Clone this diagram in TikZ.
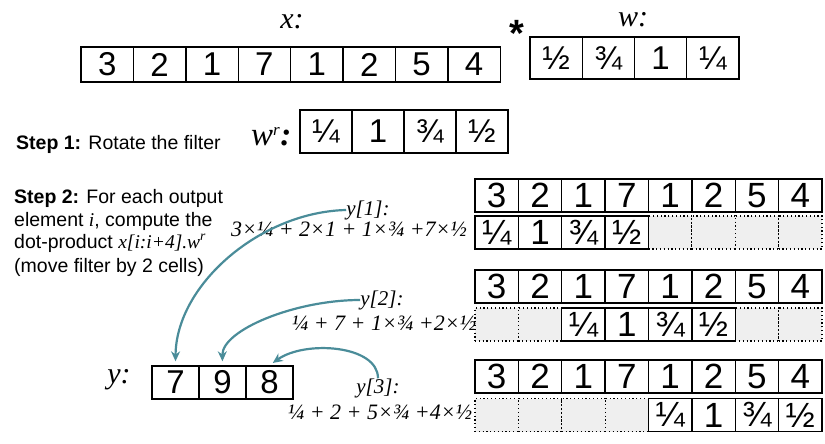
\documentclass[tikz,border=0pt]{standalone}
\usepackage{fontspec}
\setmainfont{Liberation Sans}
\newfontfamily\ser{Liberation Serif}
\usetikzlibrary{arrows.meta}
\definecolor{arrteal}{HTML}{4A8C99}
\definecolor{cellgray}{HTML}{EFEFEF}
\begin{document}
\begin{tikzpicture}[x=1pt,y=-1pt,
  basecell/.style={draw=black, line width=1.4pt, fill=white, inner sep=0pt, anchor=center},
  topcell/.style={basecell, minimum width=52.4pt, minimum height=35pt, font=\fontsize{33}{33}\selectfont},
  wcell/.style={basecell, minimum width=52.25pt, minimum height=42pt, font=\fontsize{33}{33}\selectfont},
  wrcell/.style={basecell, minimum width=52pt, minimum height=43pt, font=\fontsize{33}{33}\selectfont},
  rcell/.style={basecell, minimum width=43.375pt, minimum height=33pt, font=\fontsize{35}{35}\selectfont},
  dcell/.style={draw=black, line width=1.2pt, dash pattern=on 1.2pt off 2.6pt, fill=cellgray, inner sep=0pt, minimum width=43.375pt, minimum height=33pt},
  ycell/.style={basecell, minimum width=47pt, minimum height=33pt, font=\fontsize{33}{33}\selectfont},
  mlabel/.style={inner sep=0pt, font=\fontsize{30}{30}\selectfont\ser\itshape},
  ylab/.style={inner sep=0pt, font=\fontsize{21}{21}\selectfont\ser\itshape},
  formula/.style={inner sep=0pt, font=\fontsize{22}{22}\selectfont\ser\itshape},
  steptext/.style={inner sep=0pt, anchor=base west, font=\fontsize{19.5}{19.5}\selectfont},
  arr/.style={draw=arrteal, line width=2.2pt, -{Stealth[length=10pt,width=9pt]}, shorten >=4pt}
]
\useasboundingbox (0,0) rectangle (825,444);

% x array
\node[mlabel] (xlab) at (292,22) {x:};
\foreach \v [count=\i] in {3,2,1,7,1,2,5,4}
  \node[topcell] (x\i) at ({81+52.4*(\i-0.5)},64.5) {\v};

% star
\node[inner sep=0pt, anchor=base, font=\fontsize{38}{38}\selectfont\bfseries] (star) at (517,47) {*};

% w array
\node[mlabel] (wlab) at (633,20) {w:};
\foreach \v [count=\i] in {½,¾,1,¼}
  \node[wcell] (w\i) at ({530+52.25*(\i-0.5)},58) {\v};

% step 1
\node[steptext] (step1) at (16,149) {\textbf{Step 1:} Rotate the filter};
\node[inner sep=0pt, anchor=base west, font=\fontsize{33}{33}\selectfont\ser\itshape] (wrlab) at (251,145) {w\textsuperscript{\fontsize{17}{17}\selectfont r}\textbf{:}};
\foreach \v [count=\i] in {¼,1,¾,½}
  \node[wrcell] (wr\i) at ({300+52*(\i-0.5)},131.5) {\v};

% step 2
\node[steptext] (s2a) at (14,203) {\textbf{Step 2:} For each output};
\node[steptext] (s2b) at (14,226) {element {\ser\itshape i}, compute the};
\node[steptext] (s2c) at (14,248) {dot-product {\ser\itshape x[i:i+4].w\textsuperscript{r}}};
\node[steptext] (s2d) at (14,272) {(move filter by 2 cells)};

% right arrays
\foreach \r/\yd/\yf/\s/\dl in {1/195.5/232.5/0/{5,6,7,8}, 2/286.5/324.5/2/{1,2,7,8}, 3/376.5/415/4/{1,2,3,4}} {
  \foreach \v [count=\i] in {3,2,1,7,1,2,5,4}
    \node[rcell] (d\r-\i) at ({475+43.375*(\i-0.5)},\yd) {\v};
  \foreach \i in \dl
    \node[dcell] (e\r-\i) at ({475+43.375*(\i-0.5)},\yf) {};
  \foreach \v [count=\k] in {¼,1,¾,½}
    \node[rcell] (f\r-\k) at ({475+43.375*(\s+\k-0.5)},\yf) {\v};
}

% y array
\node[mlabel] (ylabel) at (119,380) {y:};
\foreach \v [count=\i] in {7,9,8}
  \node[ycell] (y\i) at ({152+47*(\i-0.5)},382.5) {\v};

% formulas
\node[ylab] (lab1) at (368,210) {y[1]:};
\node[formula] (form1) at (349,229) {3×¼ + 2×1 + 1×¾ +7×½};
\node[ylab] (lab2) at (382,300) {y[2]:};
\node[formula] (form2) at (384,323) {¼ + 7 + 1×¾ +2×½};
\node[ylab] (lab3) at (378,388) {y[3]:};
\node[formula] (form3) at (380,412) {¼ + 2 + 5×¾ +4×½};

% arrows
\draw[arr] (lab1.west) .. controls (260,212) and (176,285) .. (y1.north);
\draw[arr] (lab2.west) .. controls (295,300) and (222,330) .. (y2.north);
\draw[arr] (lab3.north) .. controls (378,345) and (305,340) .. (y3.north);
\end{tikzpicture}
\end{document}
